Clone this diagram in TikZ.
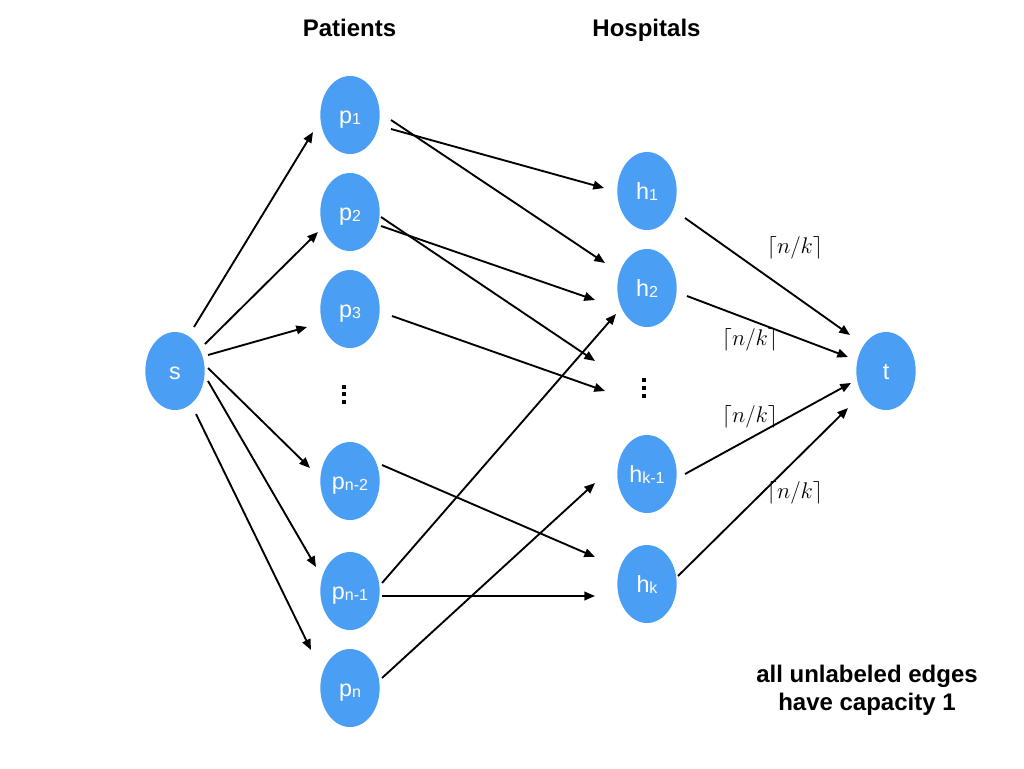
\RequirePackage{fix-cm}
\documentclass[tikz,border=0pt]{standalone}
\usepackage{fontspec}
\setmainfont{Liberation Sans}
\usetikzlibrary{arrows.meta,shapes.geometric}
\definecolor{nodeblue}{RGB}{74,159,245}
\newcommand{\lab}[2]{#1\raisebox{-1pt}{\fontsize{12}{13}\selectfont #2}}
\begin{document}
\begin{tikzpicture}[x=0.75pt,y=-0.75pt,
  vert/.style={ellipse,fill=nodeblue,text=white,minimum width=44.5pt,minimum height=58.5pt,inner sep=0pt,text height=12pt,text depth=0pt,font=\fontsize{17.5}{19}\selectfont},
  arr/.style={-{Triangle[length=8pt,width=6.5pt]},line width=1.4pt},
  head/.style={font=\bfseries\fontsize{18}{21}\selectfont},
  caplab/.style={font=\fontsize{17}{20}\selectfont}]
\useasboundingbox (0,0) rectangle (1024,768);
% headers
\node[head,anchor=base] (hp) at (349.5,36.5) {Patients};
\node[head,anchor=base] (hh) at (646.5,36.5) {Hospitals};
% nodes
\node[vert] (s) at (175,371) {s};
\node[vert] (p1) at (350,115) {\lab{p}{1}};
\node[vert] (p2) at (350,212) {\lab{p}{2}};
\node[vert] (p3) at (350,309) {\lab{p}{3}};
\node[vert] (pn2) at (350,481) {\lab{p}{n-2}};
\node[vert] (pn1) at (350,591) {\lab{p}{n-1}};
\node[vert] (pn) at (350,688) {\lab{p}{n}};
\node[vert] (h1) at (647,191) {\lab{h}{1}};
\node[vert] (h2) at (647,288) {\lab{h}{2}};
\node[vert] (hk1) at (647,474) {\lab{h}{k-1}};
\node[vert] (hk) at (647,584) {\lab{h}{k}};
\node[vert] (t) at (886,371) {t};
\coordinate (hd1) at (595,361);
\coordinate (hd2) at (605,391);
% vertical dots
\fill (342,385) rectangle (346,389);
\fill (342,392) rectangle (346,396);
\fill (342,399.5) rectangle (346,403.5);
\fill (642,378) rectangle (646,382);
\fill (642,386) rectangle (646,390);
\fill (642,394) rectangle (646,398);
% edges from s
\draw[arr] ([shift={(19,-44)}]s.center) -- ([shift={(-37,17)}]p1.center);
\draw[arr] ([shift={(30,-27)}]s.center) -- ([shift={(-32,20)}]p2.center);
\draw[arr] ([shift={(33,-16)}]s.center) -- ([shift={(-43,18)}]p3.center);
\draw[arr] ([shift={(33,-3)}]s.center) -- ([shift={(-40,-13)}]pn2.center);
\draw[arr] ([shift={(33,10)}]s.center) -- ([shift={(-34,-24)}]pn1.center);
\draw[arr] ([shift={(21,43)}]s.center) -- ([shift={(-39,-38)}]pn.center);
% patients to hospitals
\draw[arr] ([shift={(41,14)}]p1.center) -- ([shift={(-43,-3)}]h1.center);
\draw[arr] ([shift={(41,5)}]p1.center) -- ([shift={(-42,-25)}]h2.center);
\draw[arr] ([shift={(31,14)}]p2.center) -- ([shift={(-52,12)}]h2.center);
\draw[arr] ([shift={(31,5)}]p2.center) -- (hd1);
\draw[arr] ([shift={(42,7)}]p3.center) -- (hd2);
\draw[arr] ([shift={(32,-16)}]pn2.center) -- ([shift={(-52,-27)}]hk.center);
\draw[arr] ([shift={(32,-8)}]pn1.center) -- ([shift={(-31,26)}]h2.center);
\draw[arr] ([shift={(32,5)}]pn1.center) -- ([shift={(-52,12)}]hk.center);
\draw[arr] ([shift={(32,-10)}]pn.center) -- ([shift={(-52,9)}]hk1.center);
% hospitals to t
\draw[arr] ([shift={(38,27)}]h1.center) -- ([shift={(-36,-36)}]t.center);
\draw[arr] ([shift={(40,8)}]h2.center) -- ([shift={(-38,-14)}]t.center);
\draw[arr] ([shift={(38,0)}]hk1.center) -- ([shift={(-35,12)}]t.center);
\draw[arr] ([shift={(31,-8)}]hk.center) -- ([shift={(-38,37)}]t.center);
% capacity labels
\node[caplab] (c1) at (795,248) {$\lceil n/k\rceil$};
\node[caplab] (c2) at (750,340) {$\lceil n/k\rceil$};
\node[caplab] (c3) at (750,417) {$\lceil n/k\rceil$};
\node[caplab] (c4) at (795,493) {$\lceil n/k\rceil$};
% note
\node[head,align=center] (note) at (867,690) {all unlabeled edges\\have capacity 1};
\end{tikzpicture}
\end{document}
